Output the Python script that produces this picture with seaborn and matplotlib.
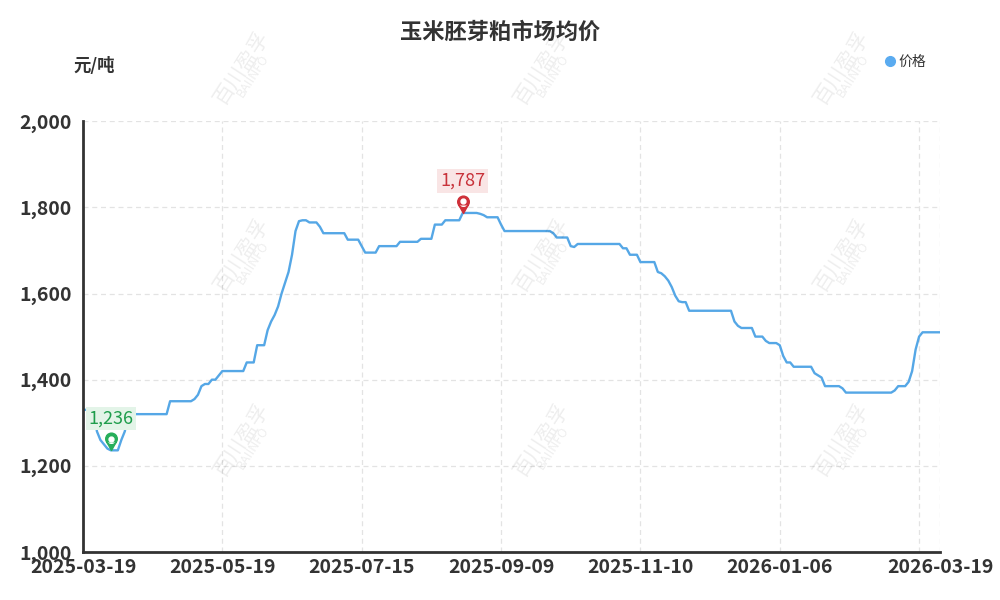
import numpy as np
import pandas as pd
import matplotlib
matplotlib.use("Agg")
import matplotlib.pyplot as plt
from matplotlib.path import Path
from matplotlib.lines import Line2D
from matplotlib.transforms import offset_copy
import seaborn as sns

# Chart data
title = "玉米胚芽粕市场均价"
unit = "元/吨"
series_name = "价格"
tick_labels = ["2025-03-19", "2025-05-19", "2025-07-15", "2025-09-09",
               "2025-11-10", "2026-01-06", "2026-03-19"]
tick_idx = [0, 40, 80, 120, 160, 200, 246]

price = [
    1330, 1330, 1330, 1330, 1280, 1260, 1250, 1240, 1236, 1236, 1236, 1260,
    1280, 1320, 1320, 1320, 1320, 1320, 1320, 1320, 1320, 1320, 1320, 1320,
    1320, 1350, 1350, 1350, 1350, 1350, 1350, 1350, 1355, 1365, 1385, 1390,
    1390, 1400, 1400, 1410, 1420, 1420, 1420, 1420, 1420, 1420, 1420, 1440,
    1440, 1440, 1480, 1480, 1480, 1515, 1535, 1550, 1570, 1600, 1625, 1650,
    1690, 1745, 1768, 1770, 1770, 1765, 1765, 1765, 1755, 1740, 1740, 1740,
    1740, 1740, 1740, 1740, 1725, 1725, 1725, 1725, 1710, 1695, 1695, 1695,
    1695, 1710, 1710, 1710, 1710, 1710, 1710, 1720, 1720, 1720, 1720, 1720,
    1720, 1727, 1727, 1727, 1727, 1760, 1760, 1760, 1770, 1770, 1770, 1770,
    1770, 1787, 1787, 1787, 1787, 1787, 1785, 1782, 1777, 1777, 1777, 1777,
    1760, 1745, 1745, 1745, 1745, 1745, 1745, 1745, 1745, 1745, 1745, 1745,
    1745, 1745, 1745, 1740, 1730, 1730, 1730, 1730, 1710, 1708, 1715, 1715,
    1715, 1715, 1715, 1715, 1715, 1715, 1715, 1715, 1715, 1715, 1715, 1705,
    1705, 1690, 1690, 1690, 1673, 1673, 1673, 1673, 1673, 1650, 1647, 1640,
    1630, 1615, 1595, 1582, 1580, 1580, 1560, 1560, 1560, 1560, 1560, 1560,
    1560, 1560, 1560, 1560, 1560, 1560, 1560, 1535, 1525, 1520, 1520, 1520,
    1520, 1500, 1500, 1500, 1490, 1485, 1485, 1485, 1480, 1455, 1440, 1440,
    1430, 1430, 1430, 1430, 1430, 1430, 1415, 1410, 1405, 1385, 1385, 1385,
    1385, 1385, 1380, 1370, 1370, 1370, 1370, 1370, 1370, 1370, 1370, 1370,
    1370, 1370, 1370, 1370, 1370, 1375, 1385, 1385, 1385, 1395, 1420, 1470,
    1500, 1510, 1510, 1510, 1510, 1510, 1510,
]

df = pd.DataFrame({"idx": np.arange(len(price)), "price": price})

sns.set_theme(style="white")
plt.rcParams["font.family"] = ["Noto Sans CJK SC", "DejaVu Sans"]

fig = plt.figure(figsize=(10, 6), dpi=100)
ax = fig.add_axes([0.083, 0.08, 0.857, 0.718])

line_color = "#55A7E6"
sns.lineplot(data=df, x="idx", y="price", ax=ax, color=line_color,
             linewidth=1.7, legend=False)

# axes
ax.set_xlim(0, len(price) - 1)
ax.set_ylim(1000, 2000)
ax.set_yticks(range(1000, 2001, 200))
ax.set_yticklabels([f"{v:,}" for v in range(1000, 2001, 200)])
grid_pos = [0, 40, 80, 120, 160, 200, 240, len(price) - 1]
ax.set_xticks(grid_pos)
lab = {i: t for i, t in zip(tick_idx, tick_labels)}
ax.set_xticklabels([lab.get(p, "") for p in grid_pos])
ax.set_xlabel("")
ax.set_ylabel("")
ax.grid(True, color="#e3e3e3", linestyle=(0, (4, 3)), linewidth=0.9)
for s in ["top", "right"]:
    ax.spines[s].set_visible(False)
for s in ["left", "bottom"]:
    ax.spines[s].set_color("#333333")
    ax.spines[s].set_linewidth(2)
ax.tick_params(axis="both", length=0, labelcolor="#333333", labelsize=14)
ax.tick_params(axis="y", pad=8)
ax.tick_params(axis="x", pad=4)
for t in ax.get_xticklabels() + ax.get_yticklabels():
    t.set_fontweight("bold")

# min / max pins
circle = Path.circle((0, 1.4), 0.7)
tri = Path([(-0.58, 1.05), (0.58, 1.05), (0, 0), (-0.58, 1.05)],
           [Path.MOVETO, Path.LINETO, Path.LINETO, Path.CLOSEPOLY])
pin = Path.make_compound_path(circle, tri)

i_min = int(np.argmin(price))
i_max = int(np.argmax(price))
marks = [
    (i_min, price[i_min], "#27ae5a", "#1f9d4c", "#e3f4e8"),
    (i_max, price[i_max], "#cf3039", "#c8323a", "#f9e5e5"),
]
for i, v, pc, tc, bg in marks:
    ax.plot(i, v, marker=pin, markersize=25, color=pc, zorder=5)
    tr = offset_copy(ax.transData, fig=fig, x=0, y=8.3, units="points")
    ax.plot(i, v, marker="o", markersize=3.5, color="white", zorder=6,
            transform=tr)
    ax.annotate(f"{v:,}", xy=(i, v), xytext=(0, 23), textcoords="offset points",
                ha="center", va="center", color=tc, fontsize=13, zorder=7,
                bbox=dict(boxstyle="square,pad=0.15", fc=bg, ec="none"))

# titles
fig.text(0.5, 1 - 32 / 600, title, ha="center", va="center", fontsize=16,
         fontweight="bold", color="#333333")
fig.text(0.073, 1 - 66 / 600, unit, ha="left", va="center", fontsize=12.5,
         fontweight="bold", color="#333333")

handle = Line2D([], [], marker="o", linestyle="", color="#5AABF0", markersize=7)
fig.legend([handle], [series_name], loc="center",
           bbox_to_anchor=(0.905, 1 - 62 / 600), frameon=False,
           handletextpad=0.1, handlelength=1.0, fontsize=10,
           labelcolor="#333333")

# watermark
for wy in [68, 255, 440]:
    for wx in [242, 542, 842]:
        fig.text(wx / 1000, 1 - wy / 600, "百川盈孚", rotation=57,
                 ha="center", va="center", fontsize=15, color="#000000",
                 alpha=0.07, zorder=10)
        fig.text((wx + 11) / 1000, 1 - (wy + 8) / 600, "BAIINFO",
                 rotation=57, ha="center", va="center", fontsize=9,
                 color="#000000", alpha=0.07, zorder=10)

fig.savefig("out.png", dpi=100, facecolor="white")
